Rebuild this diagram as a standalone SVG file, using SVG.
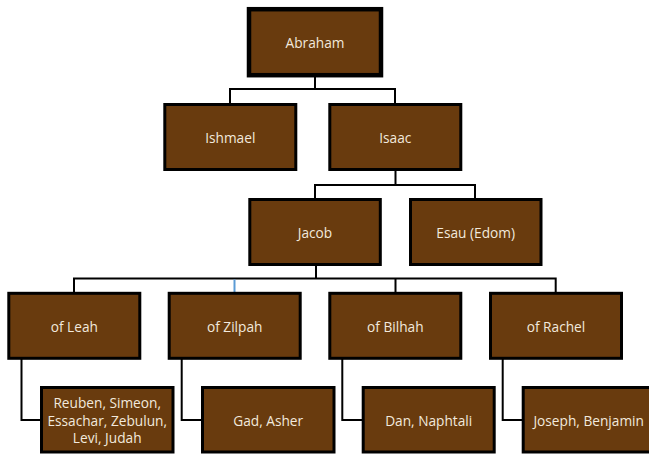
<svg xmlns="http://www.w3.org/2000/svg" width="649" height="455" viewBox="0 0 649 455">
<style>
.box{fill:#693b0e;stroke:#000;stroke-width:3}
.top{stroke-width:4.5}
.t{font-family:"Open Sans","Liberation Sans",sans-serif;font-size:13.7px;fill:#f2e9dd;text-anchor:middle;dominant-baseline:central}
.c{fill:none;stroke:#000;stroke-width:2}
</style>
<g id="connectors">
<path class="c" d="M315,76 V89 M230,103 V89 H395 V103"/>
<path class="c" d="M395.5,171 V185 M315,198 V185 H475 V198"/>
<path class="c" d="M316,265 V278.5 M74,292 V278.5 H555.7 V292 M395.5,278.5 V292"/>
<path d="M234.5,279.5 V292" fill="none" stroke="#5b9bd5" stroke-width="2"/>
<path class="c" d="M21.5,359 V420 H40 M181.7,359 V420 H201 M342.3,359 V420 H362 M502.7,359 V420 H522"/>
</g>
<g id="abraham"><rect class="box top" x="249" y="9.2" width="132" height="66"/><text class="t" x="315" y="42">Abraham</text></g>
<g id="ishmael"><rect class="box" x="164.8" y="104.5" width="131" height="65"/><text class="t" x="230.3" y="137">Ishmael</text></g>
<g id="isaac"><rect class="box" x="329.8" y="104.5" width="131" height="65"/><text class="t" x="395.3" y="137">Isaac</text></g>
<g id="jacob"><rect class="box" x="249.8" y="199.5" width="130.5" height="65"/><text class="t" x="315" y="232">Jacob</text></g>
<g id="esau"><rect class="box" x="410.5" y="199.5" width="130.5" height="65"/><text class="t" x="475.7" y="232">Esau (Edom)</text></g>
<g id="leah"><rect class="box" x="8.8" y="293.3" width="131" height="65"/><text class="t" x="74.3" y="326">of Leah</text></g>
<g id="zilpah"><rect class="box" x="169.2" y="293.3" width="131" height="65"/><text class="t" x="234.7" y="326">of Zilpah</text></g>
<g id="bilhah"><rect class="box" x="329.8" y="293.3" width="131" height="65"/><text class="t" x="395.3" y="326">of Bilhah</text></g>
<g id="rachel"><rect class="box" x="490.5" y="293.3" width="131" height="65"/><text class="t" x="556" y="326">of Rachel</text></g>
<g id="reuben"><rect class="box" x="41.5" y="387.5" width="131.5" height="64.5"/>
<text class="t" x="107.2" y="402.7">Reuben, Simeon,</text><text class="t" x="107.2" y="420">Essachar, Zebulun,</text><text class="t" x="107.2" y="437.3">Levi, Judah</text></g>
<g id="gad"><rect class="box" x="202.5" y="387.5" width="131.5" height="64.5"/><text class="t" x="268.2" y="420">Gad, Asher</text></g>
<g id="dan"><rect class="box" x="363.2" y="387.5" width="131" height="64.5"/><text class="t" x="428.7" y="420">Dan, Naphtali</text></g>
<g id="joseph"><rect class="box" x="523.2" y="387.5" width="131" height="64.5"/><text class="t" x="588.7" y="420">Joseph, Benjamin</text></g>
</svg>
